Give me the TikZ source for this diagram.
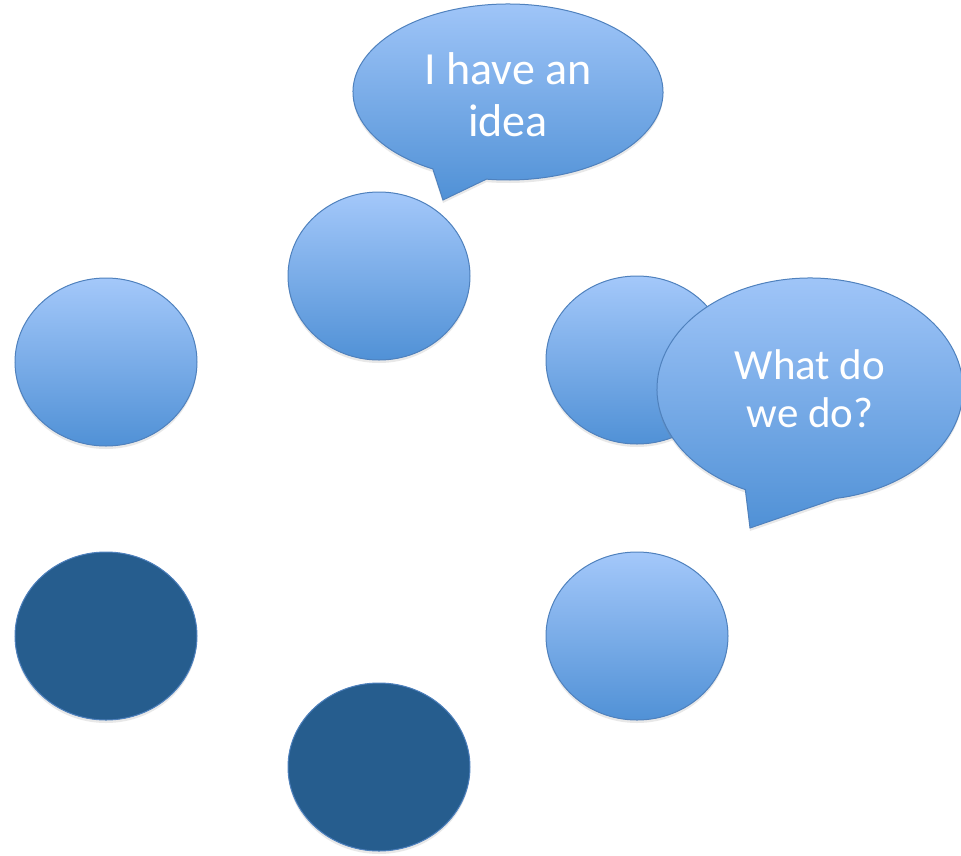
\documentclass[tikz,border=0pt]{standalone}
\usepackage{fontspec}
\setmainfont{Carlito}
\usetikzlibrary{shapes.geometric,shadows,calc}
\definecolor{edgeblue}{RGB}{79,129,189}
\definecolor{topblue}{RGB}{164,200,250}
\definecolor{lowblue}{RGB}{80,145,214}
\definecolor{darkfill}{RGB}{38,93,142}
\tikzset{softshadow/.style={drop shadow={opacity=0.18,shadow xshift=0pt,shadow yshift=-3pt}},
  lightnode/.style={ellipse,draw=edgeblue,line width=1pt,top color=topblue,bottom color=lowblue,
    minimum width=182pt,minimum height=168pt,inner sep=0pt,softshadow},
  darknode/.style={lightnode,fill=darkfill,top color=darkfill,bottom color=darkfill},
  bubbletext/.style={text=white,align=center,inner sep=0pt},
  bubble/.style={draw=edgeblue,line width=1pt,top color=topblue,bottom color=lowblue,softshadow}}

\begin{document}
\begin{tikzpicture}[x=1pt,y=-1pt]
\useasboundingbox (0,0) rectangle (961,855);

% nodes
\node [style = lightnode] (top) at (379, 276) {};
\node [style = lightnode] (left) at (106, 362) {};
\node [style = lightnode] (right) at (637, 360) {};
\node [style = darknode] (lowleft) at (106, 636) {};
\node [style = darknode] (bottom) at (379, 767) {};
\node [style = lightnode] (lowright) at (637, 636) {};

% speech bubbles
\coordinate (ideac) at (508, 92);
\coordinate (ideatip) at (443, 200);
\draw [style = bubble] (ideatip) -- ($(ideac)+(119:155 and 88)$)
  arc [start angle=119, end angle=458, x radius=155, y radius=88] -- cycle;
\node [style = bubbletext, font=\fontsize{46}{52}\selectfont] (idea) at (508, 95) {I have an\\idea};

\coordinate (whatc) at (810, 389);
\coordinate (whattip) at (750, 528);
\draw [style = bubble] (whattip) -- ($(whatc)+(115:153 and 111)$)
  arc [start angle=115, end angle=440, x radius=153, y radius=111] -- cycle;
\node [style = bubbletext, font=\fontsize{43}{48}\selectfont] (what) at (810, 389) {What do\\we do?};
\end{tikzpicture}
\end{document}
